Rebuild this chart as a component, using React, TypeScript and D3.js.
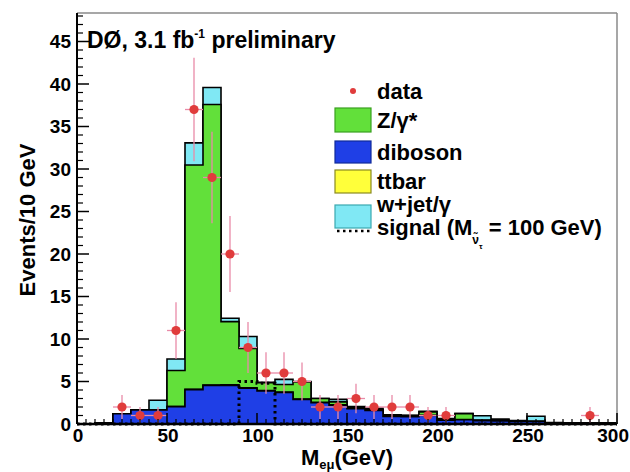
import React from "react";
import * as d3 from "d3";

// 10 GeV bins from 0 to 300 GeV
const binLow = [0, 10, 20, 30, 40, 50, 60, 70, 80, 90, 100, 110, 120, 130, 140, 150, 160, 170, 180, 190, 200, 210, 220, 230, 240, 250, 260, 270, 280, 290];
const binWidth = 10;

// Background expectations per bin (events / 10 GeV)
const diboson = [0, 0.15, 1.2, 1.65, 1.65, 2.05, 4.05, 4.55, 4.55, 4.2, 3.9, 3.7, 2.9, 2.5, 2.2, 1.8, 1.6, 0.9, 0.85, 1.0, 0.45, 0.5, 0.4, 0.35, 0.3, 0.3, 0.1, 0.1, 0.1, 0.1];
const ttbar = [0, 0, 0, 0, 0, 0, 0.02, 0.03, 0.05, 0.05, 0.05, 0.05, 0.05, 0.05, 0.05, 0.05, 0.04, 0.04, 0.03, 0.03, 0.03, 0.02, 0.02, 0.02, 0.01, 0.01, 0.01, 0, 0, 0];
const zgamma = [0, 0, 0, 0, 0, 4.25, 26.4, 33.0, 7.45, 4.65, 0.9, 0.9, 2.0, 0.45, 0.35, 0.1, 0.1, 0.1, 0.1, 0.4, 0.1, 0.7, 0.05, 0, 0, 0, 0, 0, 0, 0];
const wjet = [0, 0, 0, 0, 1.15, 1.35, 2.6, 2.0, 0.4, 1.4, 0.05, 0.6, 0.05, 0.0, 0.3, 0.1, 0.1, 0.05, 0.05, 0.05, 0.05, 0, 0.5, 0.2, 0.1, 0.6, 0.05, 0, 0, 0];

// Signal hypothesis (sneutrino, M = 100 GeV)
const signal = [0, 0, 0, 0, 0, 0, 0, 0, 0, 5.0, 4.8, 0, 0, 0, 0, 0, 0, 0, 0, 0, 0, 0, 0, 0, 0, 0, 0, 0, 0, 0];

// Observed events per bin
const data = [0, 0, 2, 1, 1, 11, 37, 29, 20, 9, 6, 6, 5, 2, 2, 3, 2, 2, 2, 1, 1, 0, 0, 0, 0, 0, 0, 0, 1, 0];

const xTicks = [0, 50, 100, 150, 200, 250, 300];
const yTicks = [0, 5, 10, 15, 20, 25, 30, 35, 40, 45];

const W = 630;
const H = 472;
const left = 77;
const right = 617;
const top = 13;
const bottom = 424;

const C_GREEN = "#62e03a";
const C_BLUE = "#1f3fe6";
const C_YELLOW = "#ffff3a";
const C_CYAN = "#80e8f4";
const C_RED = "#e03c3c";
const C_ERR = "#e98aa8";

const FONT = "'Liberation Sans', Arial, Helvetica, sans-serif";

export default function App() {
  const x = d3.scaleLinear().domain([0, 300]).range([left, right]);
  const y = d3.scaleLinear().domain([0, (bottom - top) / 8.5]).range([bottom, top]);

  const stepPoints = (vals: number[]): [number, number][] => {
    const pts: [number, number][] = [[binLow[0], 0]];
    vals.forEach((v, i) => {
      pts.push([binLow[i], v]);
      pts.push([binLow[i] + binWidth, v]);
    });
    pts.push([binLow[binLow.length - 1] + binWidth, 0]);
    return pts;
  };

  const line = d3
    .line<[number, number]>()
    .x((d) => x(d[0]))
    .y((d) => y(d[1]));
  const area = d3
    .area<[number, number]>()
    .x((d) => x(d[0]))
    .y0(y(0))
    .y1((d) => y(d[1]));

  // cumulative stack, bottom to top: diboson, ttbar, Z/gamma*, W+jet/gamma
  const cumDib = diboson;
  const cumTt = cumDib.map((v, i) => v + ttbar[i]);
  const cumZ = cumTt.map((v, i) => v + zgamma[i]);
  const cumW = cumZ.map((v, i) => v + wjet[i]);

  const layers = [
    { vals: cumW, fill: C_CYAN },
    { vals: cumZ, fill: C_GREEN },
    { vals: cumTt, fill: C_YELLOW },
    { vals: cumDib, fill: C_BLUE },
  ];

  const yMinor = d3.range(0, 49, 1).filter((v) => v % 5 !== 0);
  const xMinor = d3.range(0, 301, 5).filter((v) => v % 50 !== 0);

  const legendX = 335;
  const legendBoxW = 36;
  const legendTextX = 377;

  return (
    <svg
      width={W}
      height={H}
      style={{ position: "absolute", left: 0, top: 0, background: "#fff" }}
      fontFamily={FONT}
    >
      <rect x={0} y={0} width={W} height={H} fill="#fff" />

      {/* stacked backgrounds */}
      {layers.map((l, i) => {
        const pts = stepPoints(l.vals);
        return (
          <g key={i}>
            <path d={area(pts) || ""} fill={l.fill} />
            <path d={line(pts) || ""} fill="none" stroke="#000" strokeWidth={1.6} />
          </g>
        );
      })}

      {/* signal */}
      <path
        d={line(stepPoints(signal)) || ""}
        fill="none"
        stroke="#000"
        strokeWidth={3}
        strokeDasharray="2.5,3.5"
      />

      {/* data with Poisson errors */}
      {data.map((n, i) => {
        if (n <= 0) return null;
        const cx = x(binLow[i] + binWidth / 2);
        const e = Math.sqrt(n);
        return (
          <g key={"d" + i}>
            <line x1={cx} x2={cx} y1={y(n - e)} y2={y(n + e)} stroke={C_ERR} strokeWidth={1.3} />
            <line x1={x(binLow[i])} x2={x(binLow[i] + binWidth)} y1={y(n)} y2={y(n)} stroke={C_ERR} strokeWidth={1.3} />
            <circle cx={cx} cy={y(n)} r={4.6} fill={C_RED} />
          </g>
        );
      })}

      {/* frame */}
      <line x1={left} x2={right} y1={top} y2={top} stroke="#8a8a8a" strokeWidth={1.5} />
      <line x1={right} x2={right} y1={top} y2={bottom} stroke="#8a8a8a" strokeWidth={1.5} />
      <line x1={left} x2={left} y1={top} y2={bottom} stroke="#000" strokeWidth={2} />
      <line x1={left} x2={right} y1={bottom} y2={bottom} stroke="#000" strokeWidth={2.5} />

      {/* y ticks */}
      {yTicks.map((t) => (
        <g key={"yt" + t}>
          <line x1={left} x2={left + 12} y1={y(t)} y2={y(t)} stroke="#000" strokeWidth={1.5} />
          <text
            x={left - 6}
            y={y(t)}
            textAnchor="end"
            dominantBaseline="central"
            fontSize={19}
            fontWeight="bold"
          >
            {t}
          </text>
        </g>
      ))}
      {yMinor.map((t) => (
        <line key={"ym" + t} x1={left} x2={left + 6} y1={y(t)} y2={y(t)} stroke="#000" strokeWidth={1.2} />
      ))}

      {/* x ticks */}
      {xTicks.map((t, i) => {
        const last = i === xTicks.length - 1;
        return (
          <g key={"xt" + t}>
            <line x1={x(t)} x2={x(t)} y1={bottom} y2={bottom - 11} stroke="#000" strokeWidth={1.5} />
            <text
              x={last ? W - 1 : x(t) + 1}
              y={442}
              textAnchor={last ? "end" : "middle"}
              fontSize={19}
              fontWeight="bold"
            >
              {t}
            </text>
          </g>
        );
      })}
      {xMinor.map((t) => (
        <line key={"xm" + t} x1={x(t)} x2={x(t)} y1={bottom} y2={bottom - 5} stroke="#000" strokeWidth={1.2} />
      ))}

      {/* axis titles */}
      <text
        transform={`translate(27,220) rotate(-90)`}
        textAnchor="middle"
        dominantBaseline="central"
        fontSize={22}
        fontWeight="bold"
      >
        Events/10 GeV
      </text>
      <text x={347} y={465} textAnchor="middle" fontSize={22} fontWeight="bold">
        M
        <tspan fontSize={13} dy={4}>eμ</tspan>
        <tspan dy={-4}>(GeV)</tspan>
      </text>

      {/* experiment label */}
      <text x={87} y={48} fontSize={23} fontWeight="bold">
        DØ, 3.1 fb
        <tspan fontSize={12} dy={-10}>-1</tspan>
        <tspan dy={10}> preliminary</tspan>
      </text>

      {/* legend */}
      <g fontSize={22} fontWeight="bold">
        <circle cx={353} cy={91} r={3} fill={C_RED} />
        <text x={legendTextX} y={99}>data</text>

        <rect x={legendX} y={108} width={legendBoxW} height={24} fill={C_GREEN} stroke="#3aa020" strokeWidth={1.2} />
        <text x={legendTextX} y={128}>Z/γ*</text>

        <rect x={legendX} y={141} width={legendBoxW} height={22} fill={C_BLUE} stroke="#102a9a" strokeWidth={1.2} />
        <text x={legendTextX} y={160}>diboson</text>

        <rect x={legendX} y={170} width={legendBoxW} height={23} fill={C_YELLOW} stroke="#8a8a20" strokeWidth={1.2} />
        <text x={legendTextX} y={189}>ttbar</text>

        <rect x={legendX} y={205} width={legendBoxW} height={23} fill={C_CYAN} stroke="#3aa8b0" strokeWidth={1.2} />
        <text x={legendTextX} y={212}>w+jet/γ</text>

        <line
          x1={legendX + 2}
          x2={legendX + legendBoxW}
          y1={231}
          y2={231}
          stroke="#000"
          strokeWidth={2.5}
          strokeDasharray="2.5,3.5"
        />
        <text x={legendTextX} y={235}>
          signal (M
          <tspan fontSize={12} dy={9}>ν̃</tspan>
          <tspan fontSize={8} dy={5}>τ</tspan>
          <tspan dy={-14}> = 100 GeV)</tspan>
        </text>
      </g>
    </svg>
  );
}
